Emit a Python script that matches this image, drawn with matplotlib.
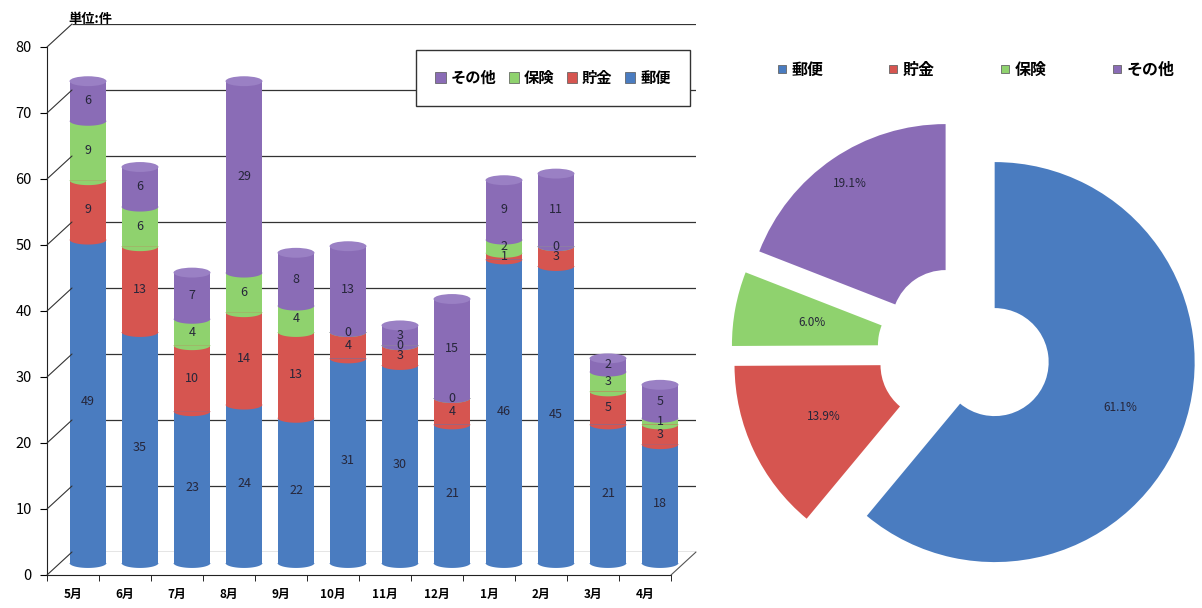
import matplotlib
matplotlib.use("Agg")
import matplotlib.pyplot as plt
import numpy as np
from matplotlib.patches import Polygon, Ellipse, Patch, ConnectionPatch
from matplotlib.lines import Line2D

plt.rcParams['font.family'] = ['Noto Sans CJK JP', 'DejaVu Sans']

# ---------------- data ----------------
months = ["5月", "6月", "7月", "8月", "9月", "10月", "11月", "12月", "1月", "2月", "3月", "4月"]
series_names = ["郵便", "貯金", "保険", "その他"]
yubin = [49, 35, 23, 24, 22, 31, 30, 21, 46, 45, 21, 18]
chokin = [9, 13, 10, 14, 13, 4, 3, 4, 1, 3, 5, 3]
hoken = [9, 6, 4, 6, 4, 0, 0, 0, 2, 0, 3, 1]
sonota = [6, 6, 7, 29, 8, 13, 3, 15, 9, 11, 2, 5]
y_ticks = [0, 10, 20, 30, 40, 50, 60, 70, 80]
pie_pct = [61.1, 13.9, 6.0, 19.1]

# ---------------- style ----------------
colors = ["#4a7cc0", "#d65550", "#8fd26e", "#8a6cb6"]
cap_color = "#9a80c4"
label_color = "#26263a"
W, H = 1202, 608

fig = plt.figure(figsize=(W / 100, H / 100), dpi=100)


def px_axes(x0, y0, x1, y1, **kw):
    return fig.add_axes([x0 / W, 1 - y1 / H, (x1 - x0) / W, (y1 - y0) / H], **kw)


n = len(months)
xlim = (-0.5, n - 0.5)
ylim = (0, 80)

# back wall (gridlines), front axis, bar layer (3D-like depth offsets)
wall = px_axes(72, 24, 696, 552)
front = px_axes(47, 47, 671, 575)
bars = px_axes(62, 35, 686, 563)

for a in (wall, front, bars):
    a.set_xlim(*xlim)
    a.set_ylim(*ylim)
    a.patch.set_alpha(0)

wall.axis("off")
wall.hlines(y_ticks, xlim[0], xlim[1], color="#333333", lw=0.9)

bars.axis("off")

# front axis
for s in ("top", "right"):
    front.spines[s].set_visible(False)
front.spines["left"].set_color("#222222")
front.spines["bottom"].set_color("#222222")
front.set_yticks(y_ticks)
front.tick_params(axis="y", direction="out", length=5, labelsize=10.5, pad=6)
front.set_xticks(range(n))
front.set_xticklabels(months, fontsize=8.5, fontweight="bold")
front.tick_params(axis="x", length=0, pad=9)
front.set_xticks(np.arange(-0.5, n, 1.0), minor=True)
front.tick_params(axis="x", which="minor", direction="out", length=4)

# diagonal depth lines from front ticks to back wall
for v in y_ticks:
    fig.add_artist(ConnectionPatch(xyA=(xlim[0], v), coordsA=front.transData,
                                   xyB=(xlim[0], v), coordsB=wall.transData,
                                   color="#333333", lw=0.8))
fig.add_artist(ConnectionPatch(xyA=(xlim[1], 0), coordsA=front.transData,
                               xyB=(xlim[1], 0), coordsB=wall.transData,
                               color="#555555", lw=0.8))

fig.text(68 / W, 1 - 19 / H, "単位:件", fontsize=9.5, fontweight="bold", va="center", ha="left")

# stacked cylinders
series = [yubin, chokin, hoken, sonota]
bw = 0.71
eh = 1.5
x = np.arange(n)
bottom = np.zeros(n)
for k, vals in enumerate(series):
    vals = np.array(vals, dtype=float)
    bars.bar(x, vals, width=bw, bottom=bottom, color=colors[k], linewidth=0, zorder=2)
    # curved lower boundary of this segment (front half of ellipse)
    t = np.linspace(np.pi, 2 * np.pi, 40)
    for i in range(n):
        pts = np.column_stack([x[i] + bw / 2 * np.cos(t), bottom[i] + eh / 2 * np.sin(t)])
        bars.add_patch(Polygon(pts, closed=True, color=colors[k], lw=0, zorder=2 + k * 0.01 + 0.005,
                               clip_on=False))
    bottom = bottom + vals

for i in range(n):
    bars.add_patch(Ellipse((x[i], bottom[i]), bw, eh, color=cap_color, lw=0, zorder=3, clip_on=False))

# data labels
bottom = np.zeros(n)
for k, vals in enumerate(series):
    for i, v in enumerate(vals):
        bars.text(x[i], bottom[i] + v / 2, str(v), ha="center", va="center",
                  fontsize=9, color=label_color, zorder=5)
    bottom = bottom + np.array(vals)

bar_handles = [Patch(facecolor=colors[k], edgecolor="#555555", lw=0.5) for k in (3, 2, 1, 0)]
bar_labels = [series_names[k] for k in (3, 2, 1, 0)]
fig.legend(bar_handles, bar_labels, loc="center", bbox_to_anchor=(553 / W, 1 - 78 / H), ncol=4,
           frameon=True, fancybox=False, edgecolor="#333333", framealpha=1, facecolor="white",
           prop={"weight": "bold", "size": 11},
           handlelength=0.7, handleheight=0.7, handletextpad=0.3, columnspacing=0.8, borderpad=1.3)

# ---------------- donut pie ----------------
S = 250
R = 203
cx, cy = 964, 351
pax = px_axes(cx - S, cy - S, cx + S, cy + S)
pax.set_xlim(-S / R, S / R)
pax.set_ylim(-S / R, S / R)
pax.set_aspect("equal")
pax.axis("off")
wedges, _ = pax.pie(pie_pct, colors=colors, startangle=90, counterclock=False,
                    explode=[0.163] * 4, radius=1,
                    wedgeprops=dict(width=0.73, edgecolor="none"))
label_dist = [0.67, 0.61, 0.61, 0.85]
for w, d, p in zip(wedges, label_dist, pie_pct):
    th = np.deg2rad((w.theta1 + w.theta2) / 2)
    c0, c1 = w.center
    pax.text(c0 + d * np.cos(th), c1 + d * np.sin(th), f"{p:.1f}%", ha="center", va="center",
             fontsize=8.5, color=label_color)

pie_handles = [Line2D([], [], marker="s", ls="none", markersize=6, markerfacecolor=c,
                      markeredgecolor="#666666", markeredgewidth=0.6) for c in colors]
fig.legend(pie_handles, series_names, loc="center", bbox_to_anchor=(975 / W, 1 - 70 / H), ncol=4,
           frameon=False, prop={"weight": "bold", "size": 11.5},
           handlelength=0.8, handletextpad=0.2, columnspacing=4.0)

fig.savefig("out.png", dpi=100)
